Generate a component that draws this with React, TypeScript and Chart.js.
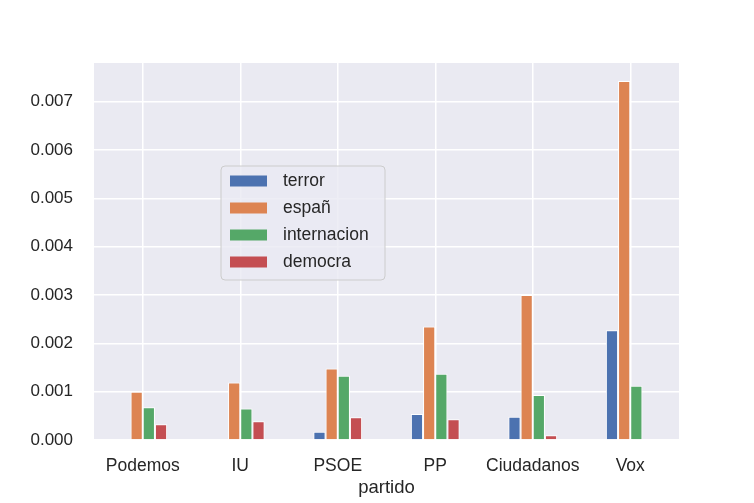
import { useEffect, useRef } from "react";
import { Chart, registerables } from "chart.js";

Chart.register(...registerables);

const partidos = ["Podemos", "IU", "PSOE", "PP", "Ciudadanos", "Vox"];
const terror = [0, 0, 0.00017, 0.00054, 0.00048, 0.00227];
const espan = [0.001, 0.00119, 0.00148, 0.00235, 0.003, 0.00743];
const internacion = [0.00068, 0.00065, 0.00133, 0.00137, 0.00093, 0.00112];
const democra = [0.000325, 0.00039, 0.00047, 0.00043, 0.0001, 0];
const yTicks = [0, 0.001, 0.002, 0.003, 0.004, 0.005, 0.006, 0.007];

const FONT = "'Liberation Sans', Arial, sans-serif";

// leyenda dentro del área del gráfico, como la de matplotlib
const innerLegend = {
    id: "innerLegend",
    afterDraw(chart: any) {
        const ctx = chart.ctx;
        const area = chart.chartArea;
        const x = area.left + 127;
        const y = area.top + 103;
        const w = 164;
        const h = 114;
        ctx.save();
        ctx.fillStyle = "rgba(234,234,242,0.8)";
        ctx.strokeStyle = "#cccccc";
        ctx.lineWidth = 1;
        ctx.beginPath();
        ctx.roundRect(x, y, w, h, 4);
        ctx.fill();
        ctx.stroke();
        ctx.font = "17.5px " + FONT;
        ctx.textBaseline = "middle";
        chart.data.datasets.forEach((ds: any, i: number) => {
            const cy = y + 15 + i * 27;
            ctx.fillStyle = ds.backgroundColor;
            ctx.fillRect(x + 9, cy - 5.5, 37, 11);
            ctx.fillStyle = "#262626";
            ctx.fillText(ds.label, x + 62, cy);
        });
        ctx.restore();
    },
};

const App = () => {
    const chartRef = useRef<HTMLCanvasElement | null>(null);
    const chartInstanceRef = useRef<Chart | null>(null);

    useEffect(() => {
        document.body.style.margin = "0";
        if (!chartRef.current) return;
        const ctx = chartRef.current.getContext("2d");
        if (!ctx) return;
        if (chartInstanceRef.current) chartInstanceRef.current.destroy();

        const mk = (label: string, data: number[], color: string) => ({
            label,
            data,
            backgroundColor: color,
            borderColor: "#ffffff",
            borderWidth: 1,
            categoryPercentage: 0.5,
            barPercentage: 1.0,
        });

        chartInstanceRef.current = new Chart(ctx, {
            type: "bar",
            data: {
                labels: partidos,
                datasets: [
                    mk("terror", terror, "#4C72B0"),
                    mk("españ", espan, "#DD8452"),
                    mk("internacion", internacion, "#55A868"),
                    mk("democra", democra, "#C44E52"),
                ],
            },
            options: {
                responsive: false,
                animation: false,
                layout: { padding: { left: 0, top: 63, right: 75, bottom: 0 } },
                plugins: {
                    legend: { display: false },
                    tooltip: { enabled: false },
                },
                scales: {
                    x: {
                        grid: { color: "#ffffff", lineWidth: 1.5, offset: false, drawTicks: false },
                        border: { display: false },
                        ticks: {
                            color: "#262626",
                            font: { family: FONT, size: 17.5 },
                            padding: 16,
                            maxRotation: 0,
                            minRotation: 0,
                            autoSkip: false,
                        },
                        title: {
                            display: true,
                            text: "partido",
                            color: "#262626",
                            font: { family: FONT, size: 18.5 },
                            padding: { top: 2, bottom: 4 },
                        },
                        afterFit: (scale: any) => {
                            scale.height = 63;
                        },
                    },
                    y: {
                        min: 0,
                        max: 0.0078,
                        afterBuildTicks: (scale: any) => {
                            scale.ticks = yTicks.map((v) => ({ value: v }));
                        },
                        grid: { color: "#ffffff", lineWidth: 1.5, drawTicks: false },
                        border: { display: false },
                        ticks: {
                            color: "#262626",
                            font: { family: FONT, size: 17 },
                            padding: 21,
                            callback: (v: any) => Number(v).toFixed(3),
                        },
                        afterFit: (scale: any) => {
                            scale.width = 94;
                        },
                    },
                },
            },
            plugins: [
                {
                    id: "bgArea",
                    beforeDraw(chart: any) {
                        const c = chart.ctx;
                        const a = chart.chartArea;
                        c.save();
                        c.fillStyle = "#EAEAF2";
                        c.fillRect(a.left, a.top, a.right - a.left, a.bottom - a.top);
                        c.restore();
                    },
                },
                innerLegend,
            ],
        });

        return () => {
            if (chartInstanceRef.current) {
                chartInstanceRef.current.destroy();
                chartInstanceRef.current = null;
            }
        };
    }, []);

    return (
        <div style={{ width: 754, height: 503, background: "#ffffff" }}>
            <canvas ref={chartRef} width={754} height={503} style={{ width: 754, height: 503 }} />
        </div>
    );
};

export default App;
